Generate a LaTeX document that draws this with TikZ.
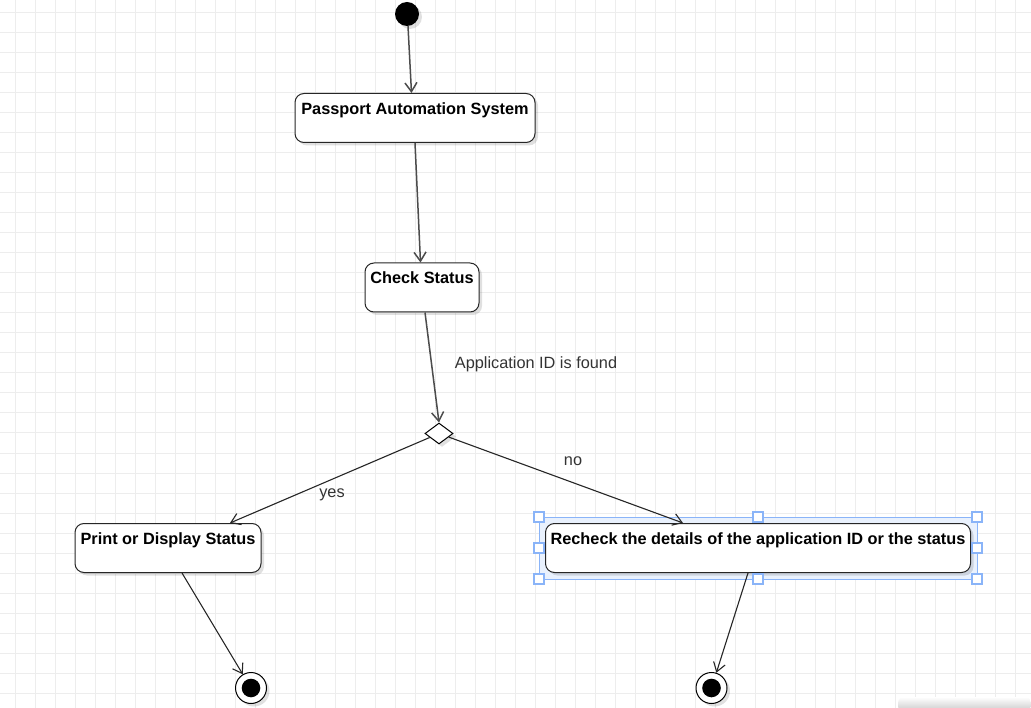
\documentclass[tikz,border=0pt]{standalone}
\usepackage{fontspec}
\setmainfont{Liberation Sans}
\usetikzlibrary{arrows.meta, shapes.geometric, shadows}

\definecolor{gitterfarbe}{HTML}{EDEDED}
\definecolor{auswahlrand}{HTML}{8AB4F8}
\definecolor{auswahlfill}{HTML}{E9F1FD}
\definecolor{textgrau}{HTML}{333333}

\tikzset{
	schatten/.style={drop shadow={shadow xshift=3pt, shadow yshift=-3pt, opacity=0.12, fill=black}},
	aktion/.style={draw=black!85, line width=1pt, fill=white, rounded corners=9pt, schatten,
		inner xsep=4pt, inner ysep=4pt, text height=17pt, text depth=24pt,
		font=\fontsize{16.3}{19}\selectfont\bfseries},
	pfeil/.style={draw=black!85, line width=1.1pt, -{Straight Barb[length=9pt,width=12pt]}},
	pfeiloben/.style={pfeil, draw=black!70, line width=1.5pt},
	hinweis/.style={font=\fontsize{16.3}{19}\selectfont, text=textgrau},
	griff/.style={draw=auswahlrand, line width=1.6pt, fill=white, minimum size=10pt, inner sep=0pt},
	ende/.style={circle, draw=black, line width=1pt, fill=white, minimum size=31pt, inner sep=0pt, schatten},
}

\begin{document}
\begin{tikzpicture}[x=1pt, y=-1pt]
	\useasboundingbox (0,0) rectangle (1031,708);
	% hintergrund mit gitter
	\fill[white] (0,0) rectangle (1031,708);
	\foreach \x in {15,35,...,1015}
		\draw[gitterfarbe, line width=1pt] (\x,0) -- (\x,708);
	\foreach \y in {13,33,...,693}
		\draw[gitterfarbe, line width=1pt] (0,\y) -- (1031,\y);
	\shade[top color=white, bottom color=black!22, rounded corners=6pt] (898,697) rectangle (1031,712);
	% start und erste aktionen
	\node[circle, fill=black, minimum size=24pt, inner sep=0pt, schatten] (start) at (407,14) {};
	\node[aktion, minimum width=240pt] (pas) at (415,118) {Passport Automation System};
	\node[aktion, minimum width=114pt] (check) at (422,287.5) {Check Status};
	\node[diamond, draw=black, line width=1pt, fill=white, minimum width=28pt, minimum height=21pt, inner sep=0pt, schatten] (dec) at (439,433.5) {};
	% auswahl um die rechte aktion
	\draw[auswahlrand, fill=auswahlfill, line width=0.8pt] (539,517) rectangle (977,579);
	% aktionen unten
	\node[aktion, minimum width=186pt] (print) at (168,548) {Print or Display Status};
	\node[aktion, minimum width=425pt] (recheck) at (758,548) {Recheck the details of the application ID or the status};
	\foreach \x/\y [count=\i] in {539/517, 758/517, 977/517, 539/548, 977/548, 539/579, 758/579, 977/579}
		\node[griff] (griff\i) at (\x,\y) {};
	% endknoten
	\node[ende] (endA) at (251,688) {};
	\fill[black] (endA.center) circle (9.3pt);
	\node[ende] (endB) at (711.5,688) {};
	\fill[black] (endB.center) circle (9.3pt);
	% die uebergaenge
	\draw[pfeiloben] ([xshift=1pt]start.south) -- ([xshift=-3.5pt]pas.north);
	\draw[pfeiloben] (pas.south) -- ([xshift=-1.5pt]check.north);
	\draw[pfeiloben] ([xshift=3pt]check.south) -- (dec.north);
	\draw[pfeil] (dec) -- ([xshift=62pt]print.north);
	\draw[pfeil] (dec) -- ([xshift=-75pt]recheck.north);
	\draw[pfeil] ([xshift=14pt]print.south) -- (endA);
	\draw[pfeil] ([xshift=-10pt]recheck.south) -- (endB);
	% beschriftung der kanten
	\node[hinweis] (gefunden) at (536,364) {Application ID is found};
	\node[hinweis] (ja) at (332,495) {yes};
	\node[hinweis] (nein) at (573,461) {no};
\end{tikzpicture}
\end{document}
